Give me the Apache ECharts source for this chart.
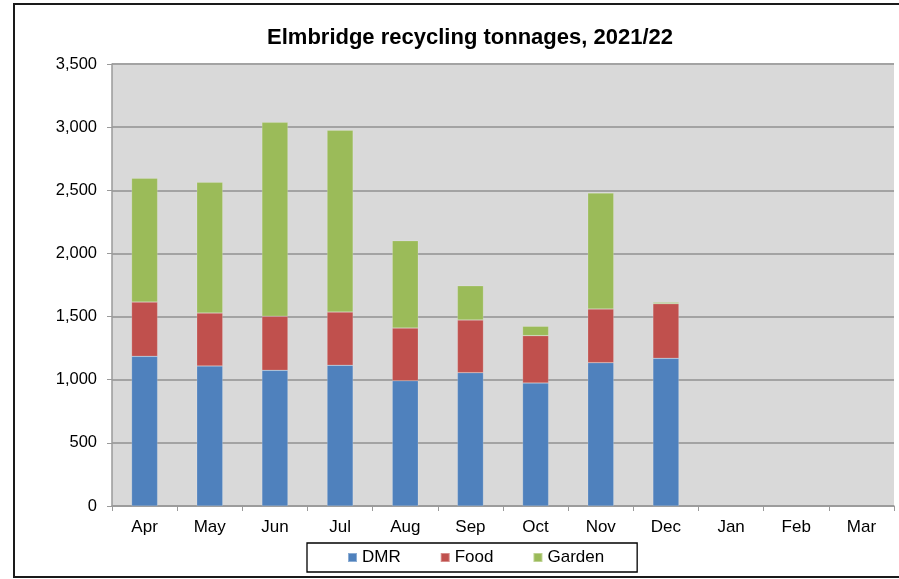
<!DOCTYPE html>
<html>
<head>
<meta charset="utf-8">
<script src="https://cdn.jsdelivr.net/npm/echarts@6/dist/echarts.min.js"></script>
<style>
html,body{margin:0;padding:0;background:#fff;}
#c{width:899px;height:579px;}
</style>
</head>
<body>
<div id="c"></div>
<script>
var months = ['Apr','May','Jun','Jul','Aug','Sep','Oct','Nov','Dec','Jan','Feb','Mar'];
var dmr    = [1185, 1109, 1074, 1114, 992, 1056, 974, 1135, 1169, null, null, null];
var food   = [430, 419, 428, 422, 417, 417, 375, 425, 433, null, null, null];
var garden = [980, 1035, 1536, 1439, 692, 271, 74, 918, 11, null, null, null];
var yTicks = [0, 500, 1000, 1500, 2000, 2500, 3000, 3500];

var chart = echarts.init(document.getElementById('c'));
var font = "'Liberation Sans', Arial, sans-serif";
function bar(name, data, color){
  return {name:name, type:'bar', stack:'total', data:data, barWidth:26,
    itemStyle:{color:color, borderColor:'rgba(255,255,255,0.35)', borderWidth:0.5},
    emphasis:{disabled:true}};
}
chart.setOption({
  animation:false,
  textStyle:{fontFamily:font},
  graphic:[{type:'rect', shape:{x:14, y:4, width:900, height:573},
    style:{fill:'none', stroke:'#1a1a1a', lineWidth:2}, silent:true, z:-1}],
  title:{text:'Elmbridge recycling tonnages, 2021/22', left:465, top:22, textAlign:'center',
    textStyle:{fontFamily:font, fontSize:22, fontWeight:'bold', color:'#000'}},
  legend:{data:['DMR','Food','Garden'], left:307, top:543, icon:'rect', itemWidth:9, itemHeight:9,
    itemGap:39, padding:[6,33,6,40], borderColor:'#000', borderWidth:1.3, borderRadius:0,
    textStyle:{fontFamily:font, fontSize:17, color:'#000'}},
  grid:{left:112, right:5, top:64, bottom:73, containLabel:false,
    show:true, backgroundColor:'#d9d9d9', borderWidth:0},
  xAxis:{type:'category', data:months, boundaryGap:true,
    axisLine:{lineStyle:{color:'#9a9a9a', width:1.5}},
    axisTick:{show:true, length:5, inside:false, lineStyle:{color:'#9a9a9a'}},
    axisLabel:{fontFamily:font, fontSize:17, color:'#000', margin:13}},
  yAxis:{type:'value', min:yTicks[0], max:yTicks[yTicks.length-1], interval:500,
    axisLine:{show:true, lineStyle:{color:'#9a9a9a', width:1.5}},
    axisTick:{show:true, length:5, lineStyle:{color:'#9a9a9a'}},
    splitLine:{lineStyle:{color:'#a3a3a3', width:2}},
    axisLabel:{fontFamily:font, fontSize:16.5, color:'#000', margin:15,
      formatter:function(v){return v.toLocaleString('en-GB');}}},
  series:[bar('DMR', dmr, '#4f81bd'), bar('Food', food, '#c0504d'), bar('Garden', garden, '#9bbb59')]
});
</script>
</body>
</html>
